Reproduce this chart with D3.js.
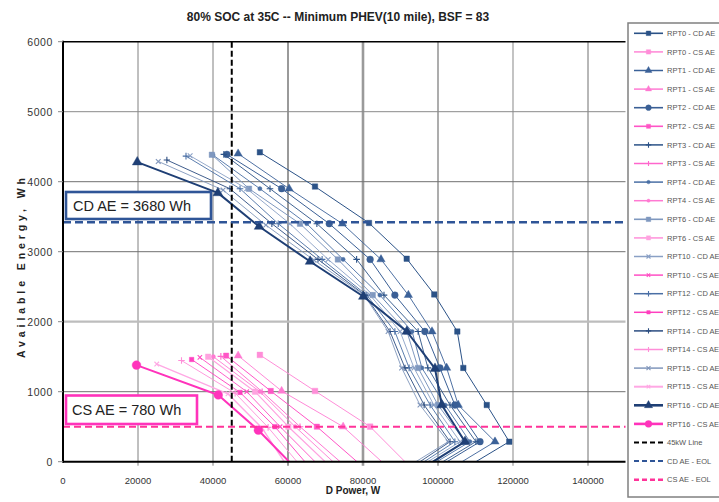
<!DOCTYPE html>
<html><head><meta charset="utf-8">
<script src="https://cdn.jsdelivr.net/npm/d3@7"></script>
<style>body{margin:0;background:#fff}svg{display:block;font-family:"Liberation Sans",Arial,sans-serif}</style>
</head><body><svg id="c" width="719" height="502"></svg>
<script>
// ---- data (Power W, Energy Wh) ----
const xTicks = [0,20000,40000,60000,80000,100000,120000,140000];
const yTicks = [0,1000,2000,3000,4000,5000,6000];
const RPT0_CD  = [[52500,4420],[67200,3930],[81600,3410],[91650,2900],[99000,2390],[105150,1860],[106750,1340],[113000,810],[119000,286],[110100,0]];
const RPT1_CD  = [[46700,4400],[60300,3900],[74500,3400],[84800,2890],[92100,2380],[98400,1860],[102300,1340],[105400,810],[115200,286],[106400,0]];
const RPT2_CD  = [[43700,4390],[58300,3900],[71000,3400],[81900,2890],[88500,2380],[96500,1860],[100500,1340],[104500,810],[111200,286],[102400,0]];
const RPT3_CD  = [[42900,4390],[55200,3900],[67700,3400],[78300,2890],[85600,2380],[94700,1860],[97300,1340],[103200,810],[110100,286],[101300,0]];
const RPT4_CD  = [[40000,4380],[52500,3900],[65000,3400],[74700,2890],[84500,2380],[93100,1860],[95700,1340],[101900,810],[108500,286],[99700,0]];
const RPT6_CD  = [[39700,4385],[49600,3900],[63200,3400],[73300,2890],[82600,2380],[91700,1860],[94700,1340],[100000,810],[107200,286],[98400,0]];
const RPT10_CD = [[33900,4370],[49000,3900],[60500,3400],[70700,2890],[81900,2380],[89900,1860],[93600,1340],[98900,810],[105900,286],[97300,0]];
const RPT12_CD = [[32800,4365],[47200,3900],[57400,3400],[69100,2890],[81000,2380],[88500,1860],[92300,1340],[97900,810],[104500,286],[96300,0]];
const RPT14_CD = [[27700,4310],[44500,3900],[55700,3400],[68000,2890],[80500,2380],[87200,1860],[91200,1340],[96300,810],[103200,286],[95200,0]];
const RPT15_CD = [[25400,4290],[42700,3880],[54100,3380],[66900,2880],[80300,2380],[86700,1860],[90300,1340],[95200,810],[102700,286],[94100,0]];
const RPT16_CD = [[19800,4280],[41300,3840],[52300,3360],[65900,2860],[80100,2360],[91700,1860],[99200,1330],[101000,810],[107200,286],[98700,0]];

const RPT0_CS  = [[52500,1525],[67200,1010],[81900,500],[91200,0]];
const RPT1_CS  = [[46700,1515],[58300,1010],[74700,500],[85000,0]];
const RPT2_CS  = [[43500,1515],[55400,1010],[67700,500],[78400,0]];
const RPT3_CS  = [[42100,1505],[53100,1000],[63200,500],[73900,0]];
const RPT4_CS  = [[40100,1500],[52500,1000],[61900,500],[72000,0]];
const RPT6_CS  = [[38700,1500],[51200,1000],[60100,500],[69900,0]];
const RPT10_CS = [[36500,1490],[49000,1000],[57900,500],[67200,0]];
const RPT12_CS = [[34300,1460],[47200,990],[56500,500],[64500,0]];
const RPT14_CS = [[31600,1445],[45900,980],[54700,490],[62400,0]];
const RPT15_CS = [[25000,1395],[44000,970],[53100,480],[59000,0]];
const RPT16_CS = [[19600,1380],[41400,953],[52100,450],[60300,0]];

const rptNames = ["RPT0","RPT1","RPT2","RPT3","RPT4","RPT6","RPT10","RPT12","RPT14","RPT15","RPT16"];
const cdData = [RPT0_CD,RPT1_CD,RPT2_CD,RPT3_CD,RPT4_CD,RPT6_CD,RPT10_CD,RPT12_CD,RPT14_CD,RPT15_CD,RPT16_CD];
const csData = [RPT0_CS,RPT1_CS,RPT2_CS,RPT3_CS,RPT4_CS,RPT6_CS,RPT10_CS,RPT12_CS,RPT14_CS,RPT15_CS,RPT16_CS];
const line45kW = 45000;
const cdEOL = 3420;
const csEOL = 500;
const cdNote = "CD AE = 3680 Wh";
const csNote = "CS AE = 780 Wh";
const title = "80% SOC at 35C -- Minimum PHEV(10 mile), BSF = 83";

// ---- styles ----
const cdColor = ["#2B5287","#3B6198","#3A5F95","#2B5287","#4A6FA5","#7F98BF","#8AA0C5","#4A6FA5","#2B4C80","#8096BB","#1F3F75"];
const cdWidth = [1,0.9,1,0.9,0.9,1,0.9,0.9,0.9,0.9,2];
const cdShape = ["square","triangle","circle","plus","dot","square","times","plus","plus","times","triangle"];
const cdSize  = [30,30,36,30,14,30,28,30,28,28,42];
const csColor = ["#FF8ED8","#FF7AD2","#FF55C6","#FF66CC","#FF7AD2","#FFA3E0","#FF4FC4","#FF3FBF","#FF8ED8","#FFA8E4","#FF33BB"];
const csWidth = [1,0.9,1,0.9,0.9,1.2,0.9,0.9,0.9,1.4,2];
const csShape = ["square","triangle","square","plus","dot","square","times","square","plus","times","circle"];
const csSize  = [32,28,28,30,14,30,24,20,30,26,60];

const svg = d3.select("#c");
const X0=63, X1=625.5, Y0=461.7, Y1=41.7;
const x = d3.scaleLinear().domain([0,150000]).range([X0,X1]);
const y = d3.scaleLinear().domain([0,6000]).range([Y0,Y1]);

const plusSym = {draw(c,s){const r=Math.sqrt(s)*0.6;c.moveTo(-r,0);c.lineTo(r,0);c.moveTo(0,-r);c.lineTo(0,r);}};
const timesSym = {draw(c,s){const r=Math.sqrt(s)*0.45;c.moveTo(-r,-r);c.lineTo(r,r);c.moveTo(r,-r);c.lineTo(-r,r);}};
function symType(n){return n==="square"?d3.symbolSquare:n==="triangle"?d3.symbolTriangle:n==="plus"?plusSym:n==="times"?timesSym:d3.symbolCircle;}
function drawMarker(g,shape,size,color,px,py){
  const stroked = shape==="plus"||shape==="times";
  g.append("path").attr("d",d3.symbol().type(symType(shape)).size(size)())
   .attr("transform",`translate(${px},${py})`)
   .attr("fill",stroked?"none":color).attr("stroke",color).attr("stroke-width",stroked?1.1:0.4);
}

// gridlines
const vGrid = {20000:["#808080",1],40000:["#808080",1],60000:["#6f6f6f",1.4],80000:["#9a9a9a",2.6],100000:["#adadad",2],120000:["#b5b5b5",1.6],140000:["#707070",1]};
const hGrid = {1000:["#707070",1],2000:["#bdbdbd",2.2],3000:["#707070",1],4000:["#707070",1],5000:["#8a8a8a",1]};
xTicks.filter(t=>t>0).forEach(t=>{
  svg.append("line").attr("x1",x(t)).attr("x2",x(t)).attr("y1",Y1).attr("y2",Y0+4)
    .attr("stroke",vGrid[t][0]).attr("stroke-width",vGrid[t][1]);
});
yTicks.filter(t=>t>0&&t<6000).forEach(t=>{
  svg.append("line").attr("x1",X0).attr("x2",X1).attr("y1",y(t)).attr("y2",y(t))
    .attr("stroke",hGrid[t][0]).attr("stroke-width",hGrid[t][1]);
});

svg.append("clipPath").attr("id","clip").append("rect").attr("x",X0).attr("y",Y1).attr("width",X1-X0).attr("height",Y0-Y1);
const plot = svg.append("g").attr("clip-path","url(#clip)");
const lineGen = d3.line().x(d=>x(d[0])).y(d=>y(d[1]));

function drawSeries(data,color,width,shape,size){
  plot.append("path").attr("d",lineGen(data)).attr("fill","none").attr("stroke",color).attr("stroke-width",width).attr("stroke-linejoin","round");
  data.slice(0,-1).forEach(d=>drawMarker(plot,shape,size,color,x(d[0]),y(d[1])));
}
cdData.forEach((d,i)=>drawSeries(d,cdColor[i],cdWidth[i],cdShape[i],cdSize[i]));
csData.forEach((d,i)=>drawSeries(d,csColor[i],csWidth[i],csShape[i],csSize[i]));

// reference lines
svg.append("line").attr("x1",x(line45kW)).attr("x2",x(line45kW)).attr("y1",Y1).attr("y2",Y0)
  .attr("stroke","#000").attr("stroke-width",2).attr("stroke-dasharray","6,3");
svg.append("line").attr("x1",X0).attr("x2",X1).attr("y1",y(cdEOL)).attr("y2",y(cdEOL))
  .attr("stroke","#2F5597").attr("stroke-width",2.6).attr("stroke-dasharray","8,4");
svg.append("line").attr("x1",X0).attr("x2",X1).attr("y1",y(csEOL)).attr("y2",y(csEOL))
  .attr("stroke","#FF3399").attr("stroke-width",2).attr("stroke-dasharray","7,4");

// axes frame
svg.append("line").attr("x1",X0).attr("x2",X1).attr("y1",Y1).attr("y2",Y1).attr("stroke","#000").attr("stroke-width",1.5);
svg.append("line").attr("x1",X0).attr("x2",X0).attr("y1",Y1-1).attr("y2",Y0+1).attr("stroke","#000").attr("stroke-width",2);
svg.append("line").attr("x1",X0).attr("x2",X1).attr("y1",Y0).attr("y2",Y0).attr("stroke","#000").attr("stroke-width",2);

// ticks & labels
yTicks.forEach(t=>{
  svg.append("line").attr("x1",X0-5).attr("x2",X0).attr("y1",y(t)).attr("y2",y(t)).attr("stroke","#888").attr("stroke-width",1);
  svg.append("text").attr("x",53).attr("y",y(t)+4).attr("text-anchor","end").attr("font-size",10.5).attr("letter-spacing",0.6).attr("fill","#333").text(t);
});
xTicks.forEach(t=>{
  svg.append("text").attr("x",x(t)).attr("y",483.5).attr("text-anchor","middle").attr("font-size",9.5).attr("fill","#333").text(t);
});
svg.append("text").attr("x",353).attr("y",494).attr("text-anchor","middle").attr("font-size",10).attr("font-weight","bold").attr("fill","#222").text("D Power, W");
svg.append("text").attr("transform","translate(25,268) rotate(-90)").attr("text-anchor","middle").attr("font-size",10.5).attr("font-weight","bold").attr("fill","#222")
  .attr("textLength",180).attr("lengthAdjust","spacing").text("Available Energy, Wh");
svg.append("text").attr("x",338).attr("y",21).attr("text-anchor","middle").attr("font-size",12).attr("font-weight","bold").attr("fill","#222").text(title);

// annotation boxes
function note(x0,y0,w,h,color,txt,tx,ty){
  svg.append("rect").attr("x",x0).attr("y",y0).attr("width",w).attr("height",h).attr("fill","#fff").attr("stroke",color).attr("stroke-width",2.6);
  svg.append("text").attr("x",tx).attr("y",ty).attr("font-size",14.5).attr("fill","#222").text(txt);
}
note(66,192,145,27,"#2F5597",cdNote,73,211);
note(66,395.5,131,28.5,"#FF33BB",csNote,72,415);

// legend
const lg = svg.append("g");
lg.append("rect").attr("x",628).attr("y",23).attr("width",100).attr("height",474).attr("fill","#fff").attr("stroke","#808080").attr("stroke-width",1.5);
const legendItems = [];
rptNames.forEach((n,i)=>{
  legendItems.push({label:n+" - CD AE",color:cdColor[i],width:cdWidth[i]+0.6,shape:cdShape[i],size:cdSize[i]*0.7});
  legendItems.push({label:n+" - CS AE",color:csColor[i],width:csWidth[i]+0.6,shape:csShape[i],size:csSize[i]*0.6});
});
legendItems.push({label:"45kW Line",color:"#000",width:2,dash:"5,3"});
legendItems.push({label:"CD AE - EOL",color:"#2F5597",width:2,dash:"5,3"});
legendItems.push({label:"CS AE - EOL",color:"#FF3399",width:2.6,dash:"5,3"});
legendItems.forEach((it,i)=>{
  const ly = 33.3 + i*18.6;
  lg.append("line").attr("x1",634).attr("x2",663).attr("y1",ly).attr("y2",ly).attr("stroke",it.color).attr("stroke-width",it.width).attr("stroke-dasharray",it.dash||null);
  if(it.shape) drawMarker(lg,it.shape,it.size,it.color,648.5,ly);
  lg.append("text").attr("x",667).attr("y",ly+2.6).attr("font-size",7.5).attr("fill","#555").text(it.label);
});
</script></body></html>
